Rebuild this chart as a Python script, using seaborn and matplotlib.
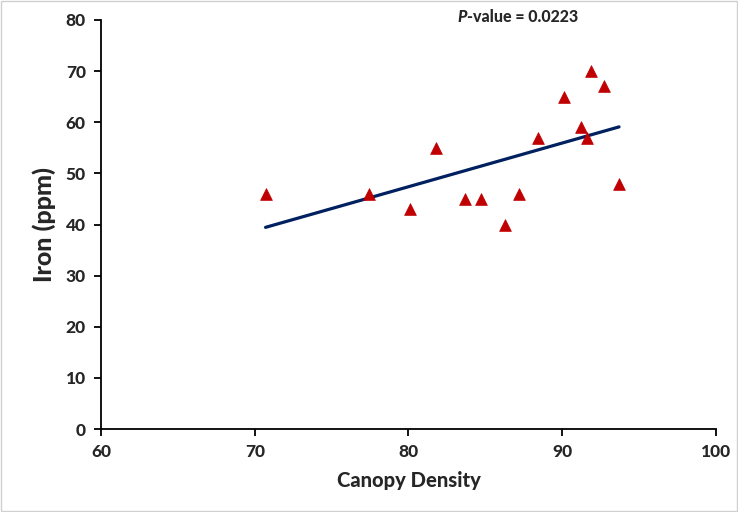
import numpy as np
import pandas as pd
import matplotlib
matplotlib.use("Agg")
import matplotlib.pyplot as plt
import seaborn as sns

# Data
canopy = [70.7, 77.4, 80.1, 81.8, 83.7, 84.7, 86.3, 87.2, 88.4, 90.1, 91.2, 91.6, 91.9, 92.7, 93.7]
iron = [46, 46, 43, 55, 45, 45, 40, 46, 57, 65, 59, 57, 70, 67, 48]
p_value = "0.0223"

df = pd.DataFrame({"canopy": canopy, "iron": iron})

sns.set_style("ticks")
plt.rcParams["font.family"] = ["Lato", "DejaVu Sans"]

fig = plt.figure(figsize=(7.38, 5.12), dpi=100)
ax = fig.add_axes([0.137, 0.162, 0.833, 0.799])

# trend line over the data range
sns.regplot(x="canopy", y="iron", data=df, ax=ax, ci=None, scatter=False,
            line_kws={"color": "#002060", "lw": 2.3})
sns.scatterplot(x="canopy", y="iron", data=df, ax=ax, marker="^", s=72,
                color="#C00000", edgecolor="#C00000", linewidth=0.5, zorder=3)

ax.set_xlim(60, 100)
ax.set_ylim(0, 80)
ax.set_xticks(range(60, 101, 10))
ax.set_yticks(range(0, 81, 10))
sns.despine(ax=ax)
for s in ["left", "bottom"]:
    ax.spines[s].set_color("black")
    ax.spines[s].set_linewidth(1.3)
ax.tick_params(direction="out", length=5, width=1.3, color="black",
               labelsize=12.5, pad=6)
for lab in ax.get_xticklabels() + ax.get_yticklabels():
    lab.set_fontweight(900)

ax.set_xlabel("Canopy Density", fontsize=14.5, fontweight=900, labelpad=8)
ax.set_ylabel("Iron (ppm)", fontsize=18, fontweight=900, labelpad=7)

# P-value note
t1 = ax.text(83.2, 80.6, "P", fontsize=11.5, fontweight=900, style="italic",
             va="center", ha="left", clip_on=False)
ax.annotate("-value = " + p_value, xy=(1, 0.5), xycoords=t1, fontsize=11.5,
            fontweight=900, va="center", ha="left")

fig.patches.append(plt.Rectangle((0.002, 0.002), 0.996, 0.996, transform=fig.transFigure,
                                 fill=False, edgecolor="#D0D0D0", lw=1))

fig.savefig("out.png", dpi=100)
